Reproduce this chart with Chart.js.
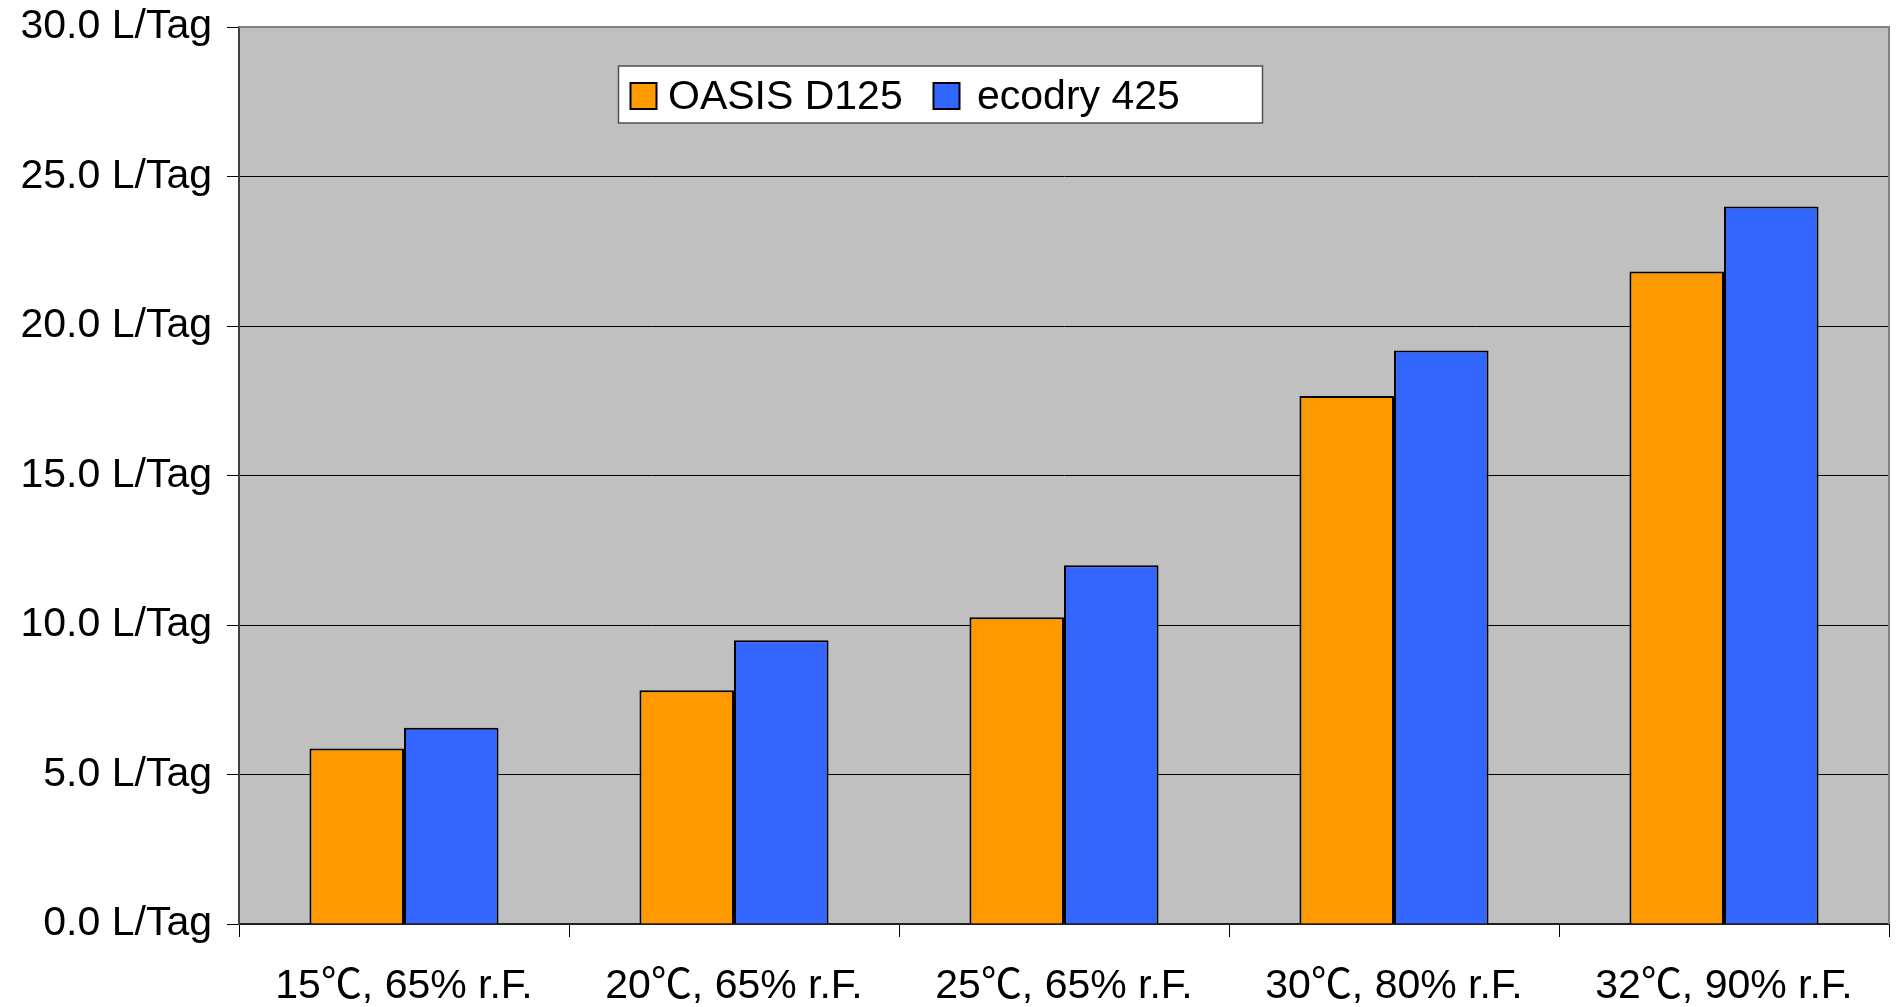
<!DOCTYPE html>
<html>
<head>
<meta charset="utf-8">
<script src="https://cdn.jsdelivr.net/npm/chart.js@4.4.1/dist/chart.umd.min.js"></script>
<style>
  html, body { margin: 0; padding: 0; background: #fff; }
  #wrap { width: 1903px; height: 1007px; }
  /* full-width degree-Celsius sign, like the original */
  @font-face {
    font-family: 'DegC';
    src: local('NotoSansCJKJP-Regular'), local('NotoSansCJKjp-Regular'), local('Noto Sans CJK JP Regular'),
         local('Noto Sans CJK JP'), local('NotoSansCJKSC-Regular'), local('Noto Sans CJK SC Regular');
    unicode-range: U+2103;
  }
</style>
</head>
<body>
<div id="wrap"><canvas id="dryChart"></canvas></div>
<script>
// Conditions (x categories)
const conditions = ['15\u2103, 65% r.F.', '20\u2103, 65% r.F.', '25\u2103, 65% r.F.', '30\u2103, 80% r.F.', '32\u2103, 90% r.F.'];
// Series names
const seriesNames = ['OASIS D125', 'ecodry 425'];
// Dehumidifying capacity in litres per day
const oasisValues = [5.87, 7.82, 10.26, 17.66, 21.82];
const ecodryValues = [6.56, 9.49, 12.0, 19.18, 24.0];
// Y axis ticks
const yTicks = [0, 5, 10, 15, 20, 25, 30];

const FONT = "DegC, 'Liberation Sans', Arial, 'Noto Sans CJK JP', sans-serif";

// Grey plot background + frame, like the Excel plot area
const plotArea = {
  id: 'plotArea',
  beforeDraw(chart) {
    const { ctx, chartArea: a } = chart;
    ctx.save();
    ctx.fillStyle = '#c0c0c0';
    ctx.fillRect(a.left, a.top, a.right - a.left, a.bottom - a.top);
    ctx.restore();
  },
  afterDatasetsDraw(chart) {
    const { ctx, chartArea: a } = chart;
    ctx.save();
    ctx.strokeStyle = '#808080';
    ctx.lineWidth = 2;
    ctx.beginPath();
    ctx.moveTo(a.left, a.top);
    ctx.lineTo(a.right, a.top);
    ctx.lineTo(a.right, a.bottom);
    ctx.stroke();
    ctx.restore();
  }
};

// Boxed legend sitting inside the plot area
const boxLegend = {
  id: 'boxLegend',
  afterDraw(chart, args, opts) {
    const { ctx } = chart;
    ctx.save();
    ctx.fillStyle = '#fff';
    ctx.fillRect(opts.x, opts.y, opts.w, opts.h);
    ctx.strokeStyle = '#505050';
    ctx.lineWidth = 1.5;
    ctx.strokeRect(opts.x, opts.y, opts.w, opts.h);
    ctx.font = '41px ' + FONT;
    ctx.textBaseline = 'alphabetic';
    chart.data.datasets.forEach((ds, i) => {
      const sx = opts.swatchX[i];
      ctx.fillStyle = ds.backgroundColor;
      ctx.fillRect(sx, opts.swatchY, opts.swatch, opts.swatch);
      ctx.strokeStyle = '#000';
      ctx.lineWidth = 2;
      ctx.strokeRect(sx, opts.swatchY, opts.swatch, opts.swatch);
      ctx.fillStyle = '#000';
      ctx.fillText(ds.label, opts.textX[i], opts.baseline);
    });
    ctx.restore();
  }
};

function drawChart() {
  const ctx = document.getElementById('dryChart').getContext('2d');
  window.dryChart = new Chart(ctx, {
    type: 'bar',
    data: {
      labels: conditions,
      datasets: [
        {
          label: seriesNames[0],
          data: oasisValues,
          backgroundColor: '#ff9900',
          borderColor: '#000',
          borderWidth: 2
        },
        {
          label: seriesNames[1],
          data: ecodryValues,
          backgroundColor: '#3366ff',
          borderColor: '#000',
          borderWidth: 2
        }
      ]
    },
    options: {
      responsive: true,
      maintainAspectRatio: false,
      animation: false,
      layout: { padding: { top: 27, right: 14, left: 0, bottom: 0 } },
      datasets: {
        bar: { categoryPercentage: 0.573, barPercentage: 1.0 }
      },
      plugins: {
        legend: { display: false },
        tooltip: { enabled: false },
        boxLegend: {
          x: 618.5, y: 66, w: 644, h: 57,
          swatch: 26, swatchY: 83,
          swatchX: [630.5, 933.5],
          textX: [668, 977],
          baseline: 109
        }
      },
      scales: {
        x: {
          offset: true,
          grid: {
            offset: true,
            drawOnChartArea: false,
            drawTicks: true,
            tickLength: 13,
            color: '#000',
            lineWidth: 1
          },
          border: { color: '#202020', width: 2 },
          ticks: {
            color: '#000',
            padding: 25,
            maxRotation: 0,
            autoSkip: false,
            font: { family: FONT, size: 41 }
          },
          afterFit(scale) { scale.height = 83; }
        },
        y: {
          min: 0,
          max: 30,
          afterBuildTicks(scale) { scale.ticks = yTicks.map(v => ({ value: v })); },
          grid: {
            color: '#000',
            lineWidth: 1,
            tickLength: 12,
            tickColor: '#000'
          },
          border: { color: '#404040', width: 2 },
          ticks: {
            color: '#000',
            padding: 15,
            font: { family: FONT, size: 41 },
            callback: (v) => v.toFixed(1) + ' L/Tag'
          },
          afterFit(scale) {
            scale.width = 239;
            // top label may hang above the plot, as in the original
            scale.paddingTop = 0;
            scale.paddingBottom = 0;
          }
        }
      }
    },
    plugins: [plotArea, boxLegend]
  });
}

// wait for the local degree-sign font, draw anyway if it is missing
document.fonts.load('41px DegC', '\u2103').then(drawChart, drawChart);
</script>
</body>
</html>
